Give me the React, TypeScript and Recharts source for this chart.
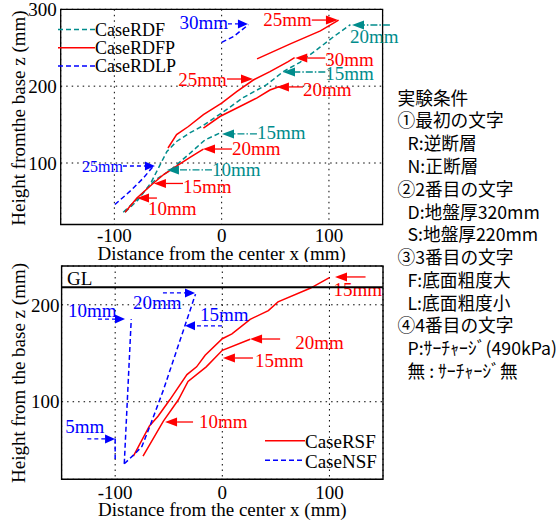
import React from "react";
import {
  CartesianGrid,
  Line,
  LineChart,
  ReferenceArea,
  ReferenceLine,
  XAxis,
  YAxis,
} from "recharts";

type Pair = [number, number];
type Note = {
  x: number; // x of arrow head (mm)
  y: number; // height the arrow points at (mm)
  from: number; // x of arrow tail (mm)
  text: string;
  color: "red" | "teal" | "blue";
  anchor: "start" | "end";
  dx: number;
  dy: number;
  size?: number;
};

const xTicks = [-100, 0, 100];
const topYTicks = [100, 200, 300];
const bottomYTicks = [100, 200];
const groundLevel = 218;

// upper chart: CaseRDF (teal), CaseRDFP (red), CaseRDLP (blue)
const rdfLow: Pair[] = [[-91.7, 36], [-77.7, 54.5], [-62, 78], [-48, 90.5], [-30, 112], [-15.6, 130], [0, 140]];
const rdfHigh: Pair[] = [[-90, 36], [-78, 52], [-66, 74], [-58, 96], [-51, 115], [-42, 128], [-30, 139], [-18, 148], [0, 165], [20, 185], [42, 202], [57.5, 219], [73, 231], [92, 251], [104, 264], [120, 280]];
const rdfpA: Pair[] = [[-90, 36], [-79, 54.5], [-65, 72], [-54, 85], [-40, 98], [-28, 108.6], [-17, 118]];
const rdfpB: Pair[] = [[-17, 145.5], [-1.6, 160.5], [17, 173.5], [32.6, 184.4], [45, 195], [54, 199.5]];
const rdfpC: Pair[] = [[-50, 119.5], [-42, 137], [-31, 147.5], [-17, 163], [0, 178], [14, 193], [29.5, 208], [45, 219], [62, 232], [68, 237]];
const rdfpD: Pair[] = [[33, 235.5], [64, 255], [92, 272], [109, 286]];
const rdlpA: Pair[] = [[-99.5, 46], [-84, 65], [-73, 80.5], [-63.5, 96]];
const rdlpB: Pair[] = [[0, 257], [11, 264.5], [25, 280]];

// lower chart: CaseRSF (red), CaseNSF (blue)
const rsfUpper: Pair[] = [[-83, 44], [-68, 75], [-60, 85], [-49, 102], [-33, 128], [-24, 136], [-16, 148], [0, 165], [9, 170], [26, 185], [43, 194], [52, 203], [82, 217], [100, 228]];
const rsfLower: Pair[] = [[-74, 44], [-55, 80], [-41, 102], [-32, 121], [-15, 136], [0, 153], [26, 164.5]];
const nsfA: Pair[] = [[-100, 62], [-100, 41]];
const nsfB: Pair[] = [[-91.5, 36], [-85, 185]];
const nsfC: Pair[] = [[-91.5, 36], [-81, 47], [-75, 54], [-67.5, 75], [-55, 112], [-35, 178], [-25, 211]];

const topSeries = [
  { name: "CaseRDF", color: "teal" as const, parts: [rdfLow, rdfHigh] },
  { name: "CaseRDFP", color: "red" as const, parts: [rdfpA, rdfpB, rdfpC, rdfpD] },
  { name: "CaseRDLP", color: "blue" as const, parts: [rdlpA, rdlpB] },
];
const bottomSeries = [
  { name: "CaseRSF", color: "red" as const, parts: [rsfUpper, rsfLower] },
  { name: "CaseNSF", color: "blue" as const, parts: [nsfA, nsfB, nsfC] },
];

const topNotes: Note[] = [
  { x: 24.5, y: 281, from: 5.9, text: "30mm", color: "blue", anchor: "end", dx: 0, dy: -1 },
  { x: 108.4, y: 286, from: 84, text: "25mm", color: "red", anchor: "end", dx: 0, dy: -1 },
  { x: 121.5, y: 279.6, from: 156.8, text: "20mm", color: "teal", anchor: "start", dx: -40, dy: 12 },
  { x: 68.6, y: 236.6, from: 96.6, text: "30mm", color: "red", anchor: "start", dx: 0, dy: 1 },
  { x: 57.2, y: 218.4, from: 96.6, text: "15mm", color: "teal", anchor: "start", dx: 0, dy: 1 },
  { x: 51.5, y: 199, from: 75.8, text: "20mm", color: "red", anchor: "start", dx: 0, dy: 3 },
  { x: 29.2, y: 209.3, from: 4.9, text: "25mm", color: "red", anchor: "end", dx: 0, dy: 0 },
  { x: 0.3, y: 137.8, from: 32.9, text: "15mm", color: "teal", anchor: "start", dx: 0, dy: -1 },
  { x: -17.4, y: 118.2, from: 9.6, text: "20mm", color: "red", anchor: "start", dx: 0, dy: -1 },
  { x: -62.2, y: 96.1, from: -92, text: "25mm", color: "blue", anchor: "end", dx: 0, dy: 0, size: 16 },
  { x: -51, y: 91, from: -9, text: "10mm", color: "teal", anchor: "start", dx: 0, dy: 0 },
  { x: -63.1, y: 73.4, from: -36, text: "15mm", color: "red", anchor: "start", dx: 0, dy: 3 },
  { x: -78.9, y: 54.4, from: -60.3, text: "10mm", color: "red", anchor: "start", dx: -9, dy: 10 },
];
const bottomNotes: Note[] = [
  { x: -100.1, y: 61.6, from: -126, text: "5mm", color: "blue", anchor: "start", dx: -22, dy: -12 },
  { x: -90.8, y: 185.3, from: -116, text: "10mm", color: "blue", anchor: "start", dx: -30, dy: -9 },
  { x: -25.5, y: 212.2, from: -55.4, text: "20mm", color: "blue", anchor: "start", dx: -30, dy: 10 },
  { x: -34.8, y: 178.3, from: -0.3, text: "15mm", color: "blue", anchor: "start", dx: -22, dy: -11 },
  { x: 105.2, y: 228.7, from: 133.7, text: "15mm", color: "red", anchor: "start", dx: -32, dy: 13 },
  { x: 25.9, y: 164.7, from: 54, text: "20mm", color: "red", anchor: "start", dx: 15, dy: 3 },
  { x: 0.6, y: 145.1, from: 28.6, text: "15mm", color: "red", anchor: "start", dx: 2, dy: 2 },
  { x: -53.4, y: 79.1, from: -27.3, text: "10mm", color: "red", anchor: "start", dx: 6, dy: 0 },
];

const conditions = [
  { head: "①最初の文字", items: ["R:逆断層", "N:正断層"] },
  { head: "②2番目の文字", items: ["D:地盤厚320mm", "S:地盤厚220mm"] },
  { head: "③3番目の文字", items: ["F:底面粗度大", "L:底面粗度小"] },
  { head: "④4番目の文字", items: ["P:ｻｰﾁｬｰｼﾞ(490kPa)", "無 : ｻｰﾁｬｰｼﾞ無"] },
];

const SERIF = "'Liberation Serif', 'Times New Roman', serif";
const SANS = "'Noto Sans CJK JP', 'Noto Sans', sans-serif";
const COLORS = { red: "#ff0000", teal: "#008c8c", blue: "#0000ff" };
const LINE_DASH = { red: undefined, teal: "5 3", blue: "5 3" };
const ARROW_DASH = { red: undefined, teal: "7 2 1.5 2", blue: "4 3" };

const toPts = (p: Pair[]) => p.map(([x, y]) => ({ x, y }));
const tickStyle = { fontFamily: SERIF, fontSize: 19, fill: "#000" };

function arrowShape(note: Note) {
  return (p: any) => {
    const { x1, y1, x2, y2 } = p;
    const color = COLORS[note.color];
    const dir = x2 >= x1 ? 1 : -1;
    const len = note.color === "blue" ? 10 : 12;
    const bx = x2 - dir * len;
    return (
      <g>
        <line x1={x1} y1={y1} x2={bx} y2={y2} stroke={color} strokeWidth={1.3} strokeDasharray={ARROW_DASH[note.color]} />
        <polygon points={`${x2},${y2} ${bx},${y2 - 4.5} ${bx},${y2 + 4.5}`} fill={color} />
        <text
          x={x1 + note.dx}
          y={y1 + note.dy}
          textAnchor={note.anchor}
          dominantBaseline="central"
          fontFamily={SERIF}
          fontSize={note.size ?? 19}
          fill={color}
        >
          {note.text}
        </text>
      </g>
    );
  };
}

function renderLines(series: typeof topSeries | typeof bottomSeries) {
  return series.flatMap((s) =>
    s.parts.map((part, i) => (
      <Line
        key={`${s.name}-${i}`}
        data={toPts(part)}
        dataKey="y"
        type="linear"
        stroke={COLORS[s.color]}
        strokeWidth={1.5}
        strokeDasharray={LINE_DASH[s.color]}
        dot={false}
        activeDot={false}
        legendType="none"
        isAnimationActive={false}
      />
    ))
  );
}

function renderNotes(notes: Note[]) {
  return notes.map((n, i) => (
    <ReferenceLine
      key={`note-${i}`}
      segment={[{ x: n.from, y: n.y }, { x: n.x, y: n.y }]}
      ifOverflow="visible"
      shape={arrowShape(n)}
    />
  ));
}

const xTitle = "Distance from the center x (mm)";

export default function App() {
  let row = 0;
  const rowY = (i: number) => 96.7 + i * 22.77;
  return (
    <div style={{ position: "absolute", left: 0, top: 0, width: 559, height: 522, background: "#fff" }}>
      <div style={{ position: "absolute", left: 0, top: 0 }}>
        <LineChart width={559} height={262} margin={{ top: 9.3, right: 176.4, bottom: 0, left: 0 }}>
          <CartesianGrid stroke="#000" strokeDasharray="1.5 4" strokeWidth={1} />
          <XAxis
            type="number"
            dataKey="x"
            domain={[-150, 150]}
            ticks={xTicks}
            interval={0}
            allowDataOverflow
            axisLine={false}
            tickLine={false}
            tickSize={0}
            tickMargin={4}
            height={37.5}
            tick={tickStyle}
            label={{ value: xTitle, position: "insideBottom", offset: 2.5, fontFamily: SERIF, fontSize: 19, fill: "#000" }}
          />
          <YAxis
            type="number"
            domain={[20, 300]}
            ticks={topYTicks}
            interval={0}
            allowDataOverflow
            axisLine={false}
            tickLine={false}
            tickSize={0}
            tickMargin={4}
            width={60.7}
            tick={tickStyle}
          />
          {renderLines(topSeries)}
          {renderNotes(topNotes)}
          <ReferenceArea x1={-150} x2={150} y1={20} y2={300} fill="none" stroke="#000" strokeWidth={1.3} />
        </LineChart>
      </div>

      <div style={{ position: "absolute", left: 0, top: 262 }}>
        <LineChart width={559} height={260} margin={{ top: 4, right: 176, bottom: 0, left: 0 }}>
          <CartesianGrid stroke="#000" strokeDasharray="1.5 4" strokeWidth={1} />
          <XAxis
            type="number"
            dataKey="x"
            domain={[-150, 150]}
            ticks={xTicks}
            interval={0}
            allowDataOverflow
            axisLine={false}
            tickLine={false}
            tickSize={0}
            tickMargin={6}
            height={42.7}
            tick={tickStyle}
            label={{ value: xTitle, position: "insideBottom", offset: 6, fontFamily: SERIF, fontSize: 19, fill: "#000" }}
          />
          <YAxis
            type="number"
            domain={[20, 240]}
            ticks={bottomYTicks}
            interval={0}
            allowDataOverflow
            axisLine={false}
            tickLine={false}
            tickSize={0}
            tickMargin={2}
            width={61.6}
            tick={tickStyle}
          />
          {renderLines(bottomSeries)}
          {renderNotes(bottomNotes)}
          <ReferenceLine y={groundLevel} stroke="#000" strokeWidth={2} />
          <ReferenceArea x1={-150} x2={150} y1={20} y2={240} fill="none" stroke="#000" strokeWidth={1.4} />
        </LineChart>
      </div>

      <svg width={559} height={522} style={{ position: "absolute", left: 0, top: 0, pointerEvents: "none" }}>
        <text transform="translate(18.5,118) rotate(-90)" textAnchor="middle" dominantBaseline="central" fontFamily={SERIF} fontSize={19}>
          Height fromthe base z (mm)
        </text>
        <text transform="translate(18.8,373) rotate(-90)" textAnchor="middle" dominantBaseline="central" fontFamily={SERIF} fontSize={19}>
          Height from the base z (mm)
        </text>

        {topSeries.map((s, i) => (
          <g key={s.name}>
            <line x1={58} x2={95} y1={29.5 + i * 18.2} y2={29.5 + i * 18.2} stroke={COLORS[s.color]} strokeWidth={1.5} strokeDasharray={LINE_DASH[s.color]} />
            <text x={95} y={30 + i * 18.2} dominantBaseline="central" fontFamily={SERIF} fontSize={18} fill="#000">
              {s.name}
            </text>
          </g>
        ))}
        {bottomSeries.map((s, i) => (
          <g key={s.name}>
            <line x1={265} x2={305} y1={440.7 + i * 19.5} y2={440.7 + i * 19.5} stroke={COLORS[s.color]} strokeWidth={1.5} strokeDasharray={LINE_DASH[s.color]} />
            <text x={305} y={441.5 + i * 19.5} dominantBaseline="central" fontFamily={SERIF} fontSize={19} fill="#000">
              {s.name}
            </text>
          </g>
        ))}

        <text x={67} y={278.5} dominantBaseline="central" fontFamily={SERIF} fontSize={19} fill="#000">
          GL
        </text>

        <text x={397.5} y={rowY(row++)} dominantBaseline="central" fontFamily={SANS} fontSize={17.7} fill="#000">
          実験条件
        </text>
        {conditions.map((c) => (
          <g key={c.head}>
            <text x={397.5} y={rowY(row++)} dominantBaseline="central" fontFamily={SANS} fontSize={17.7} fill="#000">
              {c.head}
            </text>
            {c.items.map((it) => (
              <text key={it} x={407.5} y={rowY(row++)} dominantBaseline="central" fontFamily={SANS} fontSize={17.7} fill="#000">
                {it}
              </text>
            ))}
          </g>
        ))}
      </svg>
    </div>
  );
}
